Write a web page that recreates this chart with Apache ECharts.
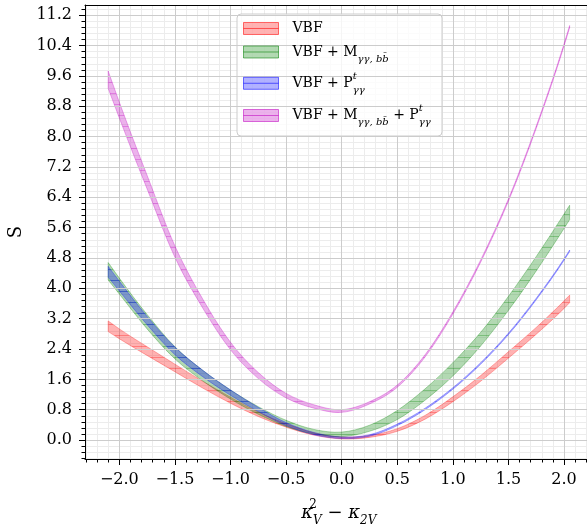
<!DOCTYPE html>
<html>
<head>
<meta charset="utf-8">
<script src="https://cdn.jsdelivr.net/npm/echarts@6/dist/echarts.min.js"></script>
<style>html,body{margin:0;padding:0;background:#fff;}#c{width:587px;height:529px;}</style>
</head>
<body>
<div id="c"></div>
<script>
// ---- data ----
const xs = [-2.1, -2.0, -1.75, -1.5, -1.25, -1.0, -0.75, -0.5, -0.25, 0.0, 0.25, 0.5, 0.75, 1.0, 1.25, 1.5, 1.75, 2.0, 2.05];

const vbfLow  = [2.86, 2.67, 2.23, 1.80, 1.37, 0.97, 0.62, 0.34, 0.13, 0.03, 0.07, 0.23, 0.55, 1.01, 1.55, 2.16, 2.79, 3.47, 3.62];
const vbfHigh = [3.14, 2.93, 2.46, 2.00, 1.55, 1.13, 0.74, 0.43, 0.19, 0.08, 0.12, 0.30, 0.65, 1.14, 1.70, 2.33, 2.97, 3.67, 3.82];

const mLow  = [4.22, 3.85, 2.93, 2.14, 1.56, 1.08, 0.68, 0.36, 0.16, 0.09, 0.23, 0.54, 1.05, 1.69, 2.48, 3.42, 4.46, 5.58, 5.81];
const mHigh = [4.68, 4.27, 3.31, 2.46, 1.84, 1.32, 0.88, 0.52, 0.28, 0.21, 0.39, 0.78, 1.35, 2.04, 2.84, 3.79, 4.84, 5.96, 6.19];

const pLow  = [4.29, 3.93, 3.04, 2.25, 1.67, 1.18, 0.75, 0.38, 0.14, 0.04, 0.10, 0.38, 0.80, 1.34, 2.00, 2.78, 3.70, 4.74, 4.97];
const pHigh = [4.58, 4.19, 3.26, 2.45, 1.84, 1.32, 0.86, 0.46, 0.20, 0.08, 0.14, 0.42, 0.84, 1.38, 2.04, 2.82, 3.74, 4.78, 5.01];

const mpLow  = [9.27, 8.49, 6.62, 4.82, 3.48, 2.38, 1.62, 1.11, 0.84, 0.73, 0.95, 1.39, 2.19, 3.32, 4.69, 6.30, 8.22, 10.39, 10.87];
const mpHigh = [9.73, 8.91, 6.98, 5.12, 3.72, 2.58, 1.78, 1.23, 0.93, 0.80, 1.01, 1.45, 2.25, 3.38, 4.75, 6.36, 8.28, 10.45, 10.93];

const seriesNames = ['VBF', 'VBF + M', 'VBF + P', 'VBF + M + P'];
const legendLabels = [
  '{n|VBF}',
  '{n|VBF + M}{sb|γγ, bb\u0304}',
  '{n|VBF + P}{sp|t}{sb|γγ}',
  '{n|VBF + M}{sb|γγ, bb\u0304}{n| + P}{sp|t}{sb|γγ}'
];

const xMajor = [-2.0, -1.5, -1.0, -0.5, 0.0, 0.5, 1.0, 1.5, 2.0];
const yMajor = [0.0, 0.8, 1.6, 2.4, 3.2, 4.0, 4.8, 5.6, 6.4, 7.2, 8.0, 8.8, 9.6, 10.4, 11.2];

const xMin = -2.3085, xMax = 2.2575;
const yMin = -0.5, yMax = 11.47;

// minor ticks (5 subdivisions of the major step)
const xMinor = [];
for (let k = -23; k <= 22; k++) { if (k % 5 !== 0) xMinor.push(+(k * 0.1).toFixed(2)); }
const yMinor = [];
for (let k = -3; k <= 71; k++) { if (k % 5 !== 0) yMinor.push(+(k * 0.16).toFixed(2)); }

// ---- styles ----
const rgbs = [[255, 0, 0], [0, 128, 0], [0, 0, 255], [191, 0, 191]];
const ALPHA = 0.3;
function rgba(c, a) { return 'rgba(' + c[0] + ',' + c[1] + ',' + c[2] + ',' + a + ')'; }
function hatch(c) {
  const cv = document.createElement('canvas');
  cv.width = 8; cv.height = 11;
  const ctx = cv.getContext('2d');
  ctx.fillStyle = rgba(c, ALPHA);
  ctx.fillRect(0, 0, 8, 11);
  ctx.fillRect(0, 5, 8, 1);
  return cv;
}

// smooth curve through pixel points (cubic Hermite, y as a function of x)
function curveSegs(pts, reverse) {
  const n = pts.length;
  const m = [];
  for (let j = 0; j < n; j++) {
    if (j === 0) m.push((pts[1][1] - pts[0][1]) / (pts[1][0] - pts[0][0]));
    else if (j === n - 1) m.push((pts[n - 1][1] - pts[n - 2][1]) / (pts[n - 1][0] - pts[n - 2][0]));
    else {
      const h0 = pts[j][0] - pts[j - 1][0], h1 = pts[j + 1][0] - pts[j][0];
      const d0 = (pts[j][1] - pts[j - 1][1]) / h0, d1 = (pts[j + 1][1] - pts[j][1]) / h1;
      m.push((d0 * h1 + d1 * h0) / (h0 + h1));
    }
  }
  let s = '';
  if (!reverse) {
    for (let j = 0; j < n - 1; j++) {
      const h = pts[j + 1][0] - pts[j][0];
      s += ' C' + (pts[j][0] + h / 3) + ',' + (pts[j][1] + m[j] * h / 3) + ' ' +
        (pts[j + 1][0] - h / 3) + ',' + (pts[j + 1][1] - m[j + 1] * h / 3) + ' ' +
        pts[j + 1][0] + ',' + pts[j + 1][1];
    }
  } else {
    for (let j = n - 1; j > 0; j--) {
      const h = pts[j][0] - pts[j - 1][0];
      s += ' C' + (pts[j][0] - h / 3) + ',' + (pts[j][1] - m[j] * h / 3) + ' ' +
        (pts[j - 1][0] + h / 3) + ',' + (pts[j - 1][1] + m[j - 1] * h / 3) + ' ' +
        pts[j - 1][0] + ',' + pts[j - 1][1];
    }
  }
  return s;
}

const bands = [[vbfLow, vbfHigh], [mLow, mHigh], [pLow, pHigh], [mpLow, mpHigh]];
const series = bands.map((b, i) => {
  const lo = b[0], hi = b[1];
  const col = rgbs[i];
  const pattern = { image: hatch(col), repeat: 'repeat' };
  return {
    type: 'custom', name: seriesNames[i], coordinateSystem: 'cartesian2d',
    xAxisIndex: 0, yAxisIndex: 0, silent: true, clip: true,
    itemStyle: { color: rgba(col, ALPHA) },
    data: xs.map((x, j) => [x, lo[j], hi[j]]),
    encode: { x: 0, y: [1, 2] },
    renderItem: function (params, api) {
      if (params.dataIndex !== 0) return null;
      const up = xs.map((x, j) => api.coord([x, hi[j]]));
      const dn = xs.map((x, j) => api.coord([x, lo[j]]));
      const n = xs.length;
      const d = 'M' + up[0][0] + ',' + up[0][1] + curveSegs(up, false) +
        ' L' + dn[n - 1][0] + ',' + dn[n - 1][1] + curveSegs(dn, true) + ' Z';
      return {
        type: 'path',
        shape: { pathData: d },
        style: { fill: pattern, stroke: rgba(col, ALPHA), lineWidth: 1 }
      };
    }
  };
});

const FONT = 'DejaVu Serif';
const richLegend = {
  n: { fontFamily: FONT, fontSize: 14, lineHeight: 24, verticalAlign: 'middle', color: '#000' },
  sb: { fontFamily: FONT, fontStyle: 'italic', fontSize: 10, lineHeight: 12, verticalAlign: 'bottom', color: '#000' },
  sp: { fontFamily: FONT, fontStyle: 'italic', fontSize: 10, lineHeight: 12, verticalAlign: 'top', width: 0, color: '#000' }
};
const legendTops = [21.5, 45, 71.3, 103.5];
const legends = seriesNames.map((nm, i) => ({
  show: true, orient: 'horizontal', left: 243, top: legendTops[i],
  padding: 0, itemWidth: 35, itemHeight: 12, itemGap: 0, selectedMode: false,
  icon: 'path://M0 0H35V12H0ZM0 6H35',
  data: [{ name: nm, itemStyle: { color: rgba(rgbs[i], ALPHA), borderColor: rgba(rgbs[i], 0.55), borderWidth: 1 } }],
  formatter: () => legendLabels[i],
  textStyle: { fontFamily: FONT, fontSize: 14, color: '#000', padding: [0, 0, 0, 9], rich: richLegend }
}));

const fmt = v => (v < -1e-9 ? '\u2212' : '') + Math.abs(v).toFixed(1);
const GRID_W = 507.7, GRID_H = 454;

const chart = echarts.init(document.getElementById('c'), null, { renderer: 'canvas' });
chart.setOption({
  animation: false,
  backgroundColor: '#fff',
  grid: { left: 85, top: 5, width: GRID_W, height: GRID_H, show: false, outerBoundsMode: 'none' },
  xAxis: [
    {
      type: 'value', min: xMin, max: xMax, position: 'bottom',
      axisLine: { show: true, onZero: false, lineStyle: { color: '#000', width: 1 } },
      axisTick: { show: true, customValues: xMajor, length: 6, lineStyle: { color: '#000', width: 1 } },
      axisLabel: { show: true, customValues: xMajor, formatter: fmt, fontFamily: FONT, fontSize: 16, color: '#000', margin: 13 },
      splitLine: { show: true, lineStyle: { color: '#cccccc', width: 1 } },
      name: '{k|κ}{sp|2}{sv|V}{m| \u2212 }{k|κ}{sv|2V}',
      nameLocation: 'middle', nameGap: 40,
      nameTextStyle: {
        rich: {
          k: { fontFamily: FONT, fontStyle: 'italic', fontSize: 18, lineHeight: 28, verticalAlign: 'middle', color: '#000' },
          m: { fontFamily: FONT, fontSize: 18, lineHeight: 28, verticalAlign: 'middle', color: '#000' },
          sp: { fontFamily: FONT, fontSize: 12, lineHeight: 14, verticalAlign: 'top', width: 0, color: '#000' },
          sv: { fontFamily: FONT, fontStyle: 'italic', fontSize: 12, lineHeight: 14, verticalAlign: 'bottom', color: '#000' }
        }
      }
    },
    {
      // minor ticks / minor grid, moved onto the bottom spine
      type: 'value', min: xMin, max: xMax, position: 'top', offset: -GRID_H,
      axisLine: { show: false, onZero: false },
      axisTick: { show: true, inside: true, customValues: xMinor, length: 3.5, lineStyle: { color: '#000', width: 1 } },
      axisLabel: { show: false },
      splitLine: { show: true, lineStyle: { color: '#ececec', width: 1 } }
    },
    {
      // top spine, drawn above the grid lines
      type: 'value', min: xMin, max: xMax, position: 'top', z: 3,
      axisLine: { show: true, onZero: false, lineStyle: { color: '#000', width: 1 } },
      axisTick: { show: false }, axisLabel: { show: false }, splitLine: { show: false }
    }
  ],
  yAxis: [
    {
      type: 'value', min: yMin, max: yMax, position: 'left', z: 3,
      axisLine: { show: true, onZero: false, lineStyle: { color: '#000', width: 1 } },
      axisTick: { show: true, customValues: yMajor, length: 6, lineStyle: { color: '#000', width: 1 } },
      axisLabel: { show: true, customValues: yMajor, formatter: fmt, fontFamily: FONT, fontSize: 16, color: '#000', margin: 13 },
      splitLine: { show: true, lineStyle: { color: '#cccccc', width: 1 } },
      name: 'S', nameLocation: 'middle', nameGap: 60,
      nameTextStyle: { fontFamily: FONT, fontSize: 18, color: '#000' }
    },
    {
      type: 'value', min: yMin, max: yMax, position: 'right', offset: -GRID_W,
      axisLine: { show: false, onZero: false },
      axisTick: { show: true, inside: true, customValues: yMinor, length: 3.5, lineStyle: { color: '#000', width: 1 } },
      axisLabel: { show: false },
      splitLine: { show: true, lineStyle: { color: '#ececec', width: 1 } }
    }
  ],
  legend: legends,
  graphic: {
    elements: [{
      type: 'rect', z: 3, silent: true,
      shape: { x: 237, y: 14, width: 205, height: 122, r: 4 },
      style: { fill: 'rgba(255,255,255,0.8)', stroke: '#cccccc', lineWidth: 1 }
    }]
  },
  series: series
});
</script>
</body>
</html>
